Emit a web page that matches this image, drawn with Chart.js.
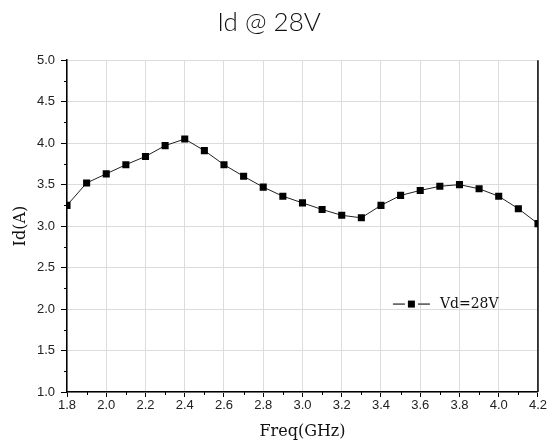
<!doctype html>
<html>
<head>
<script src="https://cdn.jsdelivr.net/npm/chart.js"></script>
<style>body{margin:0;background:#fff}</style>
</head>
<body>
<canvas id="drawhere" width="548" height="445"></canvas>
<script>
// frequency points (GHz) and measured drain current (A)
var freqs=[1.8,1.9,2.0,2.1,2.2,2.3,2.4,2.5,2.6,2.7,2.8,2.9,3.0,3.1,3.2,3.3,3.4,3.5,3.6,3.7,3.8,3.9,4.0,4.1,4.2];
var idvals=[3.25,3.52,3.63,3.74,3.84,3.97,4.05,3.91,3.74,3.60,3.47,3.36,3.28,3.20,3.13,3.10,3.25,3.37,3.43,3.48,3.50,3.45,3.36,3.21,3.03];
var xmajor=[1.8,2.0,2.2,2.4,2.6,2.8,3.0,3.2,3.4,3.6,3.8,4.0,4.2];
var ymajor=[1.0,1.5,2.0,2.5,3.0,3.5,4.0,4.5,5.0];
var serieslabel='Vd=28V';

function midpoints(arr){
  var out=[];
  for(var i=0;i<arr.length-1;i++) out.push((arr[i]+arr[i+1])/2);
  return out;
}

var extras={
  id:'extras',
  afterDraw:function(chart){
    var ctx=chart.ctx, a=chart.chartArea;
    var xs=chart.scales.x, ys=chart.scales.y;
    ctx.save();
    // minor ticks
    ctx.strokeStyle='#000'; ctx.lineWidth=1;
    midpoints(xmajor).forEach(function(v){
      var px=Math.round(xs.getPixelForValue(v))+0.5;
      ctx.beginPath(); ctx.moveTo(px,a.bottom); ctx.lineTo(px,a.bottom+3); ctx.stroke();
    });
    midpoints(ymajor).forEach(function(v){
      var py=Math.round(ys.getPixelForValue(v))+0.5;
      ctx.beginPath(); ctx.moveTo(a.left,py); ctx.lineTo(a.left-3,py); ctx.stroke();
    });
    // right frame
    ctx.lineWidth=1.5;
    ctx.beginPath(); ctx.moveTo(a.right,a.top); ctx.lineTo(a.right,a.bottom); ctx.stroke();
    // legend inside plot
    var lx=a.left+0.692*(a.right-a.left), ly=a.top+0.735*(a.bottom-a.top);
    ctx.lineWidth=1.2; ctx.strokeStyle='#222';
    ctx.beginPath(); ctx.moveTo(lx,ly); ctx.lineTo(lx+12,ly); ctx.stroke();
    ctx.beginPath(); ctx.moveTo(lx+25,ly); ctx.lineTo(lx+37,ly); ctx.stroke();
    ctx.fillStyle='#000';
    ctx.fillRect(lx+15,ly-3.5,7,7);
    ctx.font='14px "DejaVu Serif"';
    ctx.textBaseline='middle'; ctx.textAlign='left';
    ctx.fillStyle='#111';
    ctx.fillText(serieslabel,lx+47,ly);
    ctx.restore();
  }
};

var pts=freqs.map(function(f,i){return {x:f,y:idvals[i]};});

new Chart(drawhere,{
  type:'line',
  data:{
    datasets:[{
      label:serieslabel,
      data:pts,
      borderColor:'#222',
      borderWidth:1,
      backgroundColor:'#000',
      pointStyle:'rect',
      pointRadius:5,
      pointBorderWidth:0,
      pointBackgroundColor:'#000',
      tension:0
    }]
  },
  options:{
    responsive:false,
    animation:false,
    layout:{padding:{right:10}},
    plugins:{
      legend:{display:false},
      tooltip:{enabled:false},
      title:{
        display:true,
        text:'Id @ 28V',
        color:'#111',
        font:{family:'Lato',size:26,weight:'300'},
        padding:{top:7,bottom:22}
      }
    },
    scales:{
      x:{
        type:'linear',
        min:1.8,max:4.2,
        afterFit:function(s){s.height=53;},
        afterBuildTicks:function(s){s.ticks=xmajor.map(function(v){return {value:v};});},
        ticks:{
          color:'#222',
          font:{family:'Liberation Sans',size:13},
          padding:1,
          maxRotation:0,
          callback:function(v){return Number(v).toFixed(1);}
        },
        grid:{color:'#dcdcdc',tickColor:'#000',tickLength:5},
        border:{color:'#000',width:1.5},
        title:{
          display:true,
          text:'Freq(GHz)',
          color:'#111',
          font:{family:'DejaVu Serif',size:16},
          padding:{top:0,bottom:4}
        }
      },
      y:{
        min:1,max:5,
        afterFit:function(s){s.width=67;},
        afterBuildTicks:function(s){s.ticks=ymajor.map(function(v){return {value:v};});},
        ticks:{
          color:'#222',
          font:{family:'Liberation Sans',size:13},
          padding:6,
          callback:function(v){return Number(v).toFixed(1);}
        },
        grid:{color:'#dcdcdc',tickColor:'#000',tickLength:6},
        border:{color:'#000',width:1.5},
        title:{
          display:true,
          text:'Id(A)',
          color:'#111',
          font:{family:'DejaVu Serif',size:16},
          padding:{top:11,bottom:0}
        }
      }
    }
  },
  plugins:[extras]
});
</script>
</body>
</html>
